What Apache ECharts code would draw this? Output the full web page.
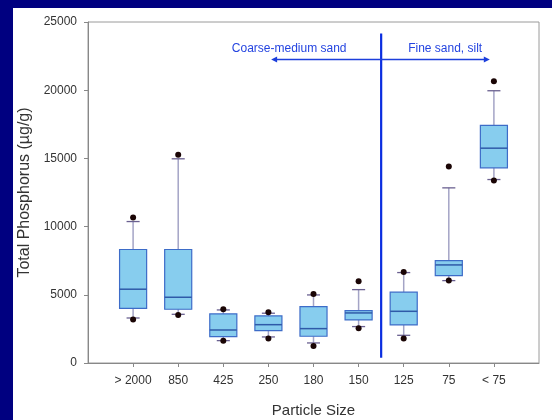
<!DOCTYPE html>
<html>
<head>
<meta charset="utf-8">
<script src="https://cdn.jsdelivr.net/npm/echarts@6/dist/echarts.min.js"></script>
<style>
html,body{margin:0;padding:0;width:552px;height:420px;background:#000080;overflow:hidden;}
#c{position:absolute;left:13px;top:8px;width:539px;height:412px;background:#ffffff;}
</style>
</head>
<body>
<div id="c"></div>
<script>
// ---- data ----
var categories  = ['> 2000', '850', '425', '250', '180', '150', '125', '75', '< 75'];
var whiskerLow  = [3300, 3570, 1640, 1910, 1470, 2670, 2030, 6040, 13450];
var q1          = [4010, 3940, 1930, 2370, 1960, 3160, 2790, 6410, 14310];
var median      = [5410, 4820, 2420, 2810, 2520, 3670, 3790, 7190, 15750];
var q3          = [8320, 8320, 3600, 3450, 4130, 3840, 5190, 7510, 17420];
var whiskerHigh = [10370, 14970, 3890, 3650, 4990, 5380, 6630, 12840, 19960];
var outlierLow  = [3180, 3520, 1640, 1790, 1250, 2540, 1790, 6040, 13380];
var outlierHigh = [10670, 15260, 3940, 3720, 5060, 5990, 6680, 14410, 20650];
var yTicks = [0, 5000, 10000, 15000, 20000, 25000];
var regionLabels = ['Coarse-medium sand', 'Fine sand, silt'];

// axis categories padded with an empty slot on each side
var axisCats = [''].concat(categories, ['']);
var boxData = categories.map(function (c, i) {
  return [i + 1, whiskerLow[i], q1[i], median[i], q3[i], whiskerHigh[i], outlierLow[i], outlierHigh[i]];
});

var chart = echarts.init(document.getElementById('c'), null, {renderer: 'canvas'});

function renderBox(params, api) {
  var x = api.value(0);
  var step = api.size([1, 0])[0];
  var bw = step * 0.6, cw = step * 0.29;
  var P = function (k) { return api.coord([x, api.value(k)]); };
  var lo = P(1), b1 = P(2), md = P(3), b3 = P(4), hi = P(5), ol = P(6), oh = P(7);
  var cx = lo[0];
  var wStyle = {stroke: '#a4a4c6', lineWidth: 1.5};
  var cStyle = {stroke: '#6a6090', lineWidth: 1.3};
  return {
    type: 'group',
    children: [
      {type: 'line', shape: {x1: cx, y1: b3[1], x2: cx, y2: hi[1]}, style: wStyle},
      {type: 'line', shape: {x1: cx, y1: b1[1], x2: cx, y2: lo[1]}, style: wStyle},
      {type: 'line', shape: {x1: cx - cw / 2, y1: hi[1], x2: cx + cw / 2, y2: hi[1]}, style: cStyle},
      {type: 'line', shape: {x1: cx - cw / 2, y1: lo[1], x2: cx + cw / 2, y2: lo[1]}, style: cStyle},
      {type: 'rect', shape: {x: cx - bw / 2, y: b3[1], width: bw, height: b1[1] - b3[1]},
        style: {fill: '#87cdee', stroke: '#3d6cc8', lineWidth: 1.2}},
      {type: 'line', shape: {x1: cx - bw / 2, y1: md[1], x2: cx + bw / 2, y2: md[1]},
        style: {stroke: '#2f5aa8', lineWidth: 1.5}},
      {type: 'circle', shape: {cx: cx, cy: ol[1], r: 3}, style: {fill: '#1a0505'}},
      {type: 'circle', shape: {cx: cx, cy: oh[1], r: 3}, style: {fill: '#1a0505'}}
    ]
  };
}

function renderNotes(params, api) {
  var step = api.size([1, 0])[0];
  var c0 = api.coord([0, 0]);
  var px = function (i) { return c0[0] + i * step; };
  var py = function (v) { return api.coord([0, v])[1]; };
  var divX = px(6.5);
  var arrY = py(22250);
  var xl = px(4.06), xr = px(8.91);
  var blue = '#1c3fdc';
  var ah = 6, aw = 3;
  return {
    type: 'group',
    children: [
      {type: 'line', shape: {x1: divX, y1: py(24150), x2: divX, y2: py(390)},
        style: {stroke: '#0a2ee0', lineWidth: 2.2}},
      {type: 'line', shape: {x1: xl + 3, y1: arrY, x2: xr - 3, y2: arrY},
        style: {stroke: blue, lineWidth: 1.6}},
      {type: 'polygon', shape: {points: [[xl, arrY], [xl + ah, arrY - aw], [xl + ah, arrY + aw]]},
        style: {fill: blue}},
      {type: 'polygon', shape: {points: [[xr, arrY], [xr - ah, arrY - aw], [xr - ah, arrY + aw]]},
        style: {fill: blue}},
      {type: 'text', x: px(4.46), y: py(23070),
        style: {text: regionLabels[0], fill: '#2444e0', font: '12px "Liberation Sans", Arial, sans-serif',
          align: 'center', verticalAlign: 'middle'}},
      {type: 'text', x: px(7.92), y: py(23070),
        style: {text: regionLabels[1], fill: '#2444e0', font: '12px "Liberation Sans", Arial, sans-serif',
          align: 'center', verticalAlign: 'middle'}}
    ]
  };
}

var labelFont = '"Liberation Sans", Arial, sans-serif';
chart.setOption({
  animation: false,
  backgroundColor: '#ffffff',
  grid: {left: 75, right: 13, top: 14, bottom: 57, show: true, borderColor: '#9a9a9a', borderWidth: 1,
    containLabel: false, outerBoundsMode: 'none'},
  xAxis: {
    type: 'category',
    data: axisCats,
    boundaryGap: false,
    name: 'Particle Size',
    nameLocation: 'middle',
    nameGap: 40,
    nameTextStyle: {fontSize: 15, color: '#333333', fontFamily: labelFont},
    axisLine: {lineStyle: {color: '#888888', width: 1}},
    axisTick: {show: true, length: 4, lineStyle: {color: '#888888'},
      interval: function (idx, val) { return val !== ''; }},
    axisLabel: {color: '#333333', fontSize: 12, fontFamily: labelFont, margin: 12, interval: 0},
    splitLine: {show: false}
  },
  yAxis: {
    type: 'value',
    min: yTicks[0],
    max: yTicks[yTicks.length - 1],
    interval: yTicks[1] - yTicks[0],
    name: 'Total Phosphorus (µg/g)',
    nameLocation: 'middle',
    nameGap: 52,
    nameRotate: 90,
    nameTextStyle: {fontSize: 16, color: '#333333', fontFamily: labelFont},
    axisLine: {show: true, lineStyle: {color: '#888888', width: 1}},
    axisTick: {show: true, length: 4, lineStyle: {color: '#888888'}},
    axisLabel: {color: '#333333', fontSize: 12, fontFamily: labelFont, margin: 11,
      formatter: function (v) { return String(v); }},
    splitLine: {show: false}
  },
  series: [
    {type: 'custom', renderItem: renderBox, data: boxData, encode: {x: 0, y: [1, 2, 3, 4, 5, 6, 7]}, z: 3},
    {type: 'custom', renderItem: renderNotes, data: [[0, 0]], silent: true, z: 2}
  ]
});
</script>
</body>
</html>
